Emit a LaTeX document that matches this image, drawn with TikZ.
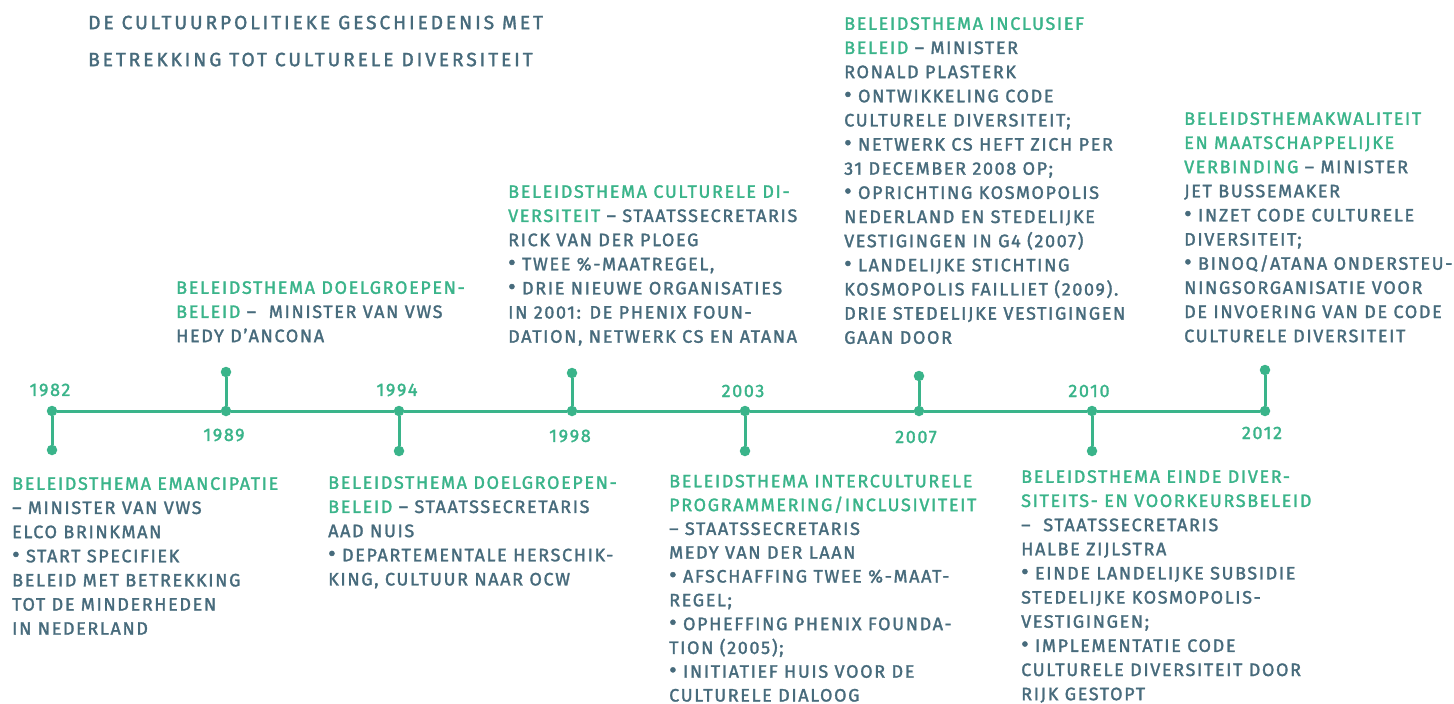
\documentclass[tikz,border=0pt]{standalone}
\usepackage{fontspec}
\setmainfont{Fira Sans}[LetterSpace=9, FakeBold=1.6]
\newfontfamily\headingfont{Fira Sans}[LetterSpace=15, FakeBold=1.6]
\definecolor{tlgreen}{HTML}{3AB48A}
\definecolor{tlslate}{HTML}{476B7C}
\newcommand{\hl}[1]{\textcolor{tlgreen}{#1}}
\newcommand{\tlbullet}{{\fontsize{23}{24}\selectfont •}}

\tikzset{
  dot/.style={circle, fill=tlgreen, inner sep=0pt, minimum size=10.5pt},
  tline/.style={draw=tlgreen, line width=3pt},
  entry/.style={anchor=north west, inner sep=0pt, align=left, text=tlslate,
                font=\fontsize{18}{24.15}\selectfont},
  year/.style={inner sep=0pt, text=tlgreen, font=\fontsize{18}{20}\selectfont},
  heading/.style={anchor=north west, inner sep=0pt, align=left, text=tlslate,
                font=\headingfont\fontsize{19.2}{37}\selectfont},
}

\begin{document}
\begin{tikzpicture}[x=1pt, y=-1pt]
\useasboundingbox[fill=white] (0,0) rectangle (1454,704);

% heading
\node[heading] (title) at (88,15.5) {DE CULTUURPOLITIEKE GESCHIEDENIS MET\\BETREKKING TOT CULTURELE DIVERSITEIT};

% points on the time axis
\node[dot] (p1982) at (52,411) {};
\node[dot] (p1989) at (226,411) {};
\node[dot] (p1994) at (399,411) {};
\node[dot] (p1998) at (572,411) {};
\node[dot] (p2003) at (745,411) {};
\node[dot] (p2007) at (919,411) {};
\node[dot] (p2010) at (1092,411) {};
\node[dot] (p2012) at (1265,411) {};

% stem ends
\node[dot] (s1982) at (52,450) {};
\node[dot] (s1989) at (226,372) {};
\node[dot] (s1994) at (399,451) {};
\node[dot] (s1998) at (572,373) {};
\node[dot] (s2003) at (745,451) {};
\node[dot] (s2007) at (919,376) {};
\node[dot] (s2010) at (1092,451) {};
\node[dot] (s2012) at (1265,370) {};

% axis and stems
\draw[tline] (p1982) -- (p1989) -- (p1994) -- (p1998) -- (p2003) -- (p2007) -- (p2010) -- (p2012);
\foreach \y in {1982,1989,1994,1998,2003,2007,2010,2012}
  \draw[tline] (p\y) -- (s\y);

% years
\node[year] (y1982) at (50,390) {1982};
\node[year] (y1989) at (224,435) {1989};
\node[year] (y1994) at (397,390) {1994};
\node[year] (y1998) at (570,436) {1998};
\node[year] (y2003) at (743,391) {2003};
\node[year] (y2007) at (916,437) {2007};
\node[year] (y2010) at (1089,391) {2010};
\node[year] (y2012) at (1262,433) {2012};

% policy entries
\node[entry] (t1982) at (12,477) {\hl{BELEIDSTHEMA EMANCIPATIE}\\
– MINISTER VAN VWS\\
ELCO BRINKMAN\\
\tlbullet{} START SPECIFIEK\\
BELEID MET BETREKKING\\
TOT DE MINDERHEDEN\\
IN NEDERLAND};

\node[entry] (t1989) at (176,281) {\hl{BELEIDSTHEMA DOELGROEPEN-}\\
\hl{BELEID} –\ \ MINISTER VAN VWS\\
HEDY D’ANCONA};

\node[entry] (t1994) at (328,476) {\hl{BELEIDSTHEMA DOELGROEPEN-}\\
\hl{BELEID} – STAATSSECRETARIS\\
AAD NUIS\\
\tlbullet{} DEPARTEMENTALE HERSCHIK-\\
KING, CULTUUR NAAR OCW};

\node[entry] (t1998) at (508,185) {\hl{BELEIDSTHEMA CULTURELE DI-}\\
\hl{VERSITEIT} – STAATSSECRETARIS\\
RICK VAN DER PLOEG\\
\tlbullet{} TWEE \%-MAATREGEL,\\
\tlbullet{} DRIE NIEUWE ORGANISATIES\\
IN 2001: DE PHENIX FOUN-\\
DATION, NETWERK CS EN ATANA};

\node[entry, font=\fontsize{18}{23.8}\selectfont] (t2003) at (669,474.5) {\hl{BELEIDSTHEMA INTERCULTURELE}\\
\hl{PROGRAMMERING/INCLUSIVITEIT}\\
– STAATSSECRETARIS\\
MEDY VAN DER LAAN\\
\tlbullet{} AFSCHAFFING TWEE \%-MAAT-\\
REGEL;\\
\tlbullet{} OPHEFFING PHENIX FOUNDA-\\
TION (2005);\\
\tlbullet{} INITIATIEF HUIS VOOR DE\\
CULTURELE DIALOOG};

\node[entry] (t2007) at (844,17) {\hl{BELEIDSTHEMA INCLUSIEF}\\
\hl{BELEID} – MINISTER\\
RONALD PLASTERK\\
\tlbullet{} ONTWIKKELING CODE\\
CULTURELE DIVERSITEIT;\\
\tlbullet{} NETWERK CS HEFT ZICH PER\\
31 DECEMBER 2008 OP;\\
\tlbullet{} OPRICHTING KOSMOPOLIS\\
NEDERLAND EN STEDELIJKE\\
VESTIGINGEN IN G4 (2007)\\
\tlbullet{} LANDELIJKE STICHTING\\
KOSMOPOLIS FAILLIET (2009).\\
DRIE STEDELIJKE VESTIGINGEN\\
GAAN DOOR};

\node[entry] (t2010) at (1021,470) {\hl{BELEIDSTHEMA EINDE DIVER-}\\
\hl{SITEITS- EN VOORKEURSBELEID}\\
–\ \ STAATSSECRETARIS\\
HALBE ZIJLSTRA\\
\tlbullet{} EINDE LANDELIJKE SUBSIDIE\\
STEDELIJKE KOSMOPOLIS-\\
VESTIGINGEN;\\
\tlbullet{} IMPLEMENTATIE CODE\\
CULTURELE DIVERSITEIT DOOR\\
RIJK GESTOPT};

\node[entry] (t2012) at (1184,112) {\hl{BELEIDSTHEMAKWALITEIT}\\
\hl{EN MAATSCHAPPELIJKE}\\
\hl{VERBINDING} – MINISTER\\
JET BUSSEMAKER\\
\tlbullet{} INZET CODE CULTURELE\\
DIVERSITEIT;\\
\tlbullet{} BINOQ/ATANA ONDERSTEU-\\
NINGSORGANISATIE VOOR\\
DE INVOERING VAN DE CODE\\
CULTURELE DIVERSITEIT};
\end{tikzpicture}
\end{document}
